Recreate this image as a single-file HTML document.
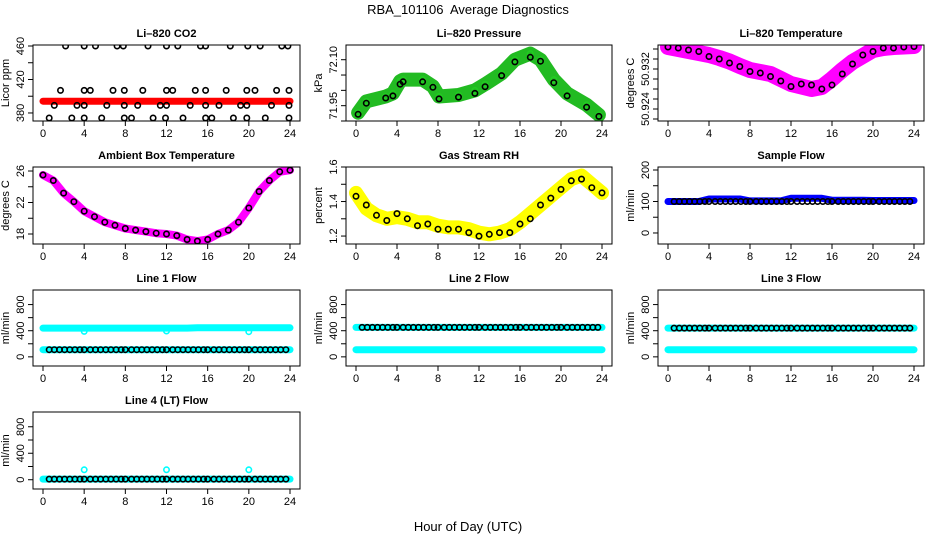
<!DOCTYPE html>
<html><head><meta charset="utf-8"><style>
html,body{margin:0;padding:0;background:#fff;}
svg{display:block;font-family:"Liberation Sans",sans-serif;}
</style></head><body>
<svg id="c" width="936" height="540" viewBox="0 0 936 540">
<text x="468" y="14" text-anchor="middle" font-size="13">RBA_101106&#160; Average Diagnostics</text>
<text x="468" y="531" text-anchor="middle" font-size="13">Hour of Day (UTC)</text>
</svg>
<script>
// ---- data arrays ----
const hours = [0,1,2,3,4,5,6,7,8,9,10,11,12,13,14,15,16,17,18,19,20,21,22,23,24];
const xTicks = [0,4,8,12,16,20,24];

const co2Band = [394,394,394,394,394,394,394,394,394,394,394,394,394,394,394,394,394,394,394,394,394,394,394,394,394];
const co2BlackHours = [2.2,4.0,5.1,7.2,7.8,10.2,12.0,13.1,15.3,15.8,18.2,19.9,21.1,23.2,23.8,
  1.7,4.0,4.6,6.8,7.9,9.7,12.0,12.6,14.8,15.8,17.8,19.8,20.6,22.7,23.9,
  1.1,3.3,4.0,6.2,7.9,9.2,11.4,12.0,14.3,15.8,17.1,19.2,19.8,22.2,23.9,
  0.6,2.8,4.0,5.7,7.9,8.6,10.7,11.9,13.6,15.8,16.4,18.5,19.8,21.6,23.9];
const co2BlackValues = [460,460,460,460,460,460,460,460,460,460,460,460,460,460,460,
  407,407,407,407,407,407,407,407,407,407,407,407,407,407,407,
  389,389,389,389,389,389,389,389,389,389,389,389,389,389,389,
  374,374,374,374,374,374,374,374,374,374,374,374,374,374,374];

const presHours = [0.2,1.0,2.9,3.6,4.3,4.6,6.5,7.5,8.1,10,11.6,12.6,14.2,15.5,17,18,19.3,20.6,22.5,23.7];
const presValues = [71.927,71.964,71.98,71.99,72.03,72.035,72.035,72.013,71.98,71.985,72.0,72.02,72.055,72.10,72.12,72.10,72.035,71.99,71.953,71.92];
const presBlack = [71.922,71.958,71.975,71.982,72.02,72.028,72.028,72.01,71.972,71.978,71.99,72.012,72.048,72.093,72.108,72.095,72.025,71.982,71.945,71.915];

const tempHours = [0,1,2,3,4,5,6,7,8,9,10,11,12,13,14,15,16,17,18,19,20,21,22,23,24];
const tempValues = [50.9364,50.936,50.9356,50.9352,50.9348,50.9342,50.9335,50.9326,50.9318,50.9314,50.931,50.930,50.929,50.9285,50.928,50.9284,50.930,50.9318,50.9334,50.9346,50.9358,50.9362,50.9364,50.9365,50.9366];
const tempBlack = [50.9364,50.9362,50.9358,50.9355,50.9345,50.934,50.9332,50.9325,50.9315,50.9312,50.9305,50.9296,50.9285,50.929,50.9288,50.928,50.9288,50.931,50.933,50.9348,50.9355,50.9362,50.9362,50.9364,50.9365];

const ambValues = [25.5,24.8,23.2,22.1,20.9,20.2,19.5,19.1,18.7,18.5,18.3,18.1,18.0,17.8,17.3,17.1,17.3,18.0,18.5,19.5,21.3,23.4,24.8,25.9,26.1];

const rhValues = [1.45,1.36,1.32,1.30,1.31,1.30,1.28,1.28,1.26,1.25,1.25,1.24,1.22,1.21,1.22,1.24,1.28,1.33,1.38,1.43,1.48,1.53,1.55,1.50,1.45];
const rhBlack = [1.43,1.38,1.32,1.29,1.33,1.30,1.26,1.27,1.24,1.24,1.24,1.22,1.20,1.21,1.22,1.22,1.27,1.30,1.38,1.42,1.47,1.52,1.53,1.48,1.45];

const sampleValues = [100,100,100,100,108,108,108,108,102,102,102,102,110,110,110,110,104,104,104,104,103,103,103,103,103];

const flowHours = [0.6,1.1,1.6,2.1,2.6,3.1,3.6,4.0,4.6,5.1,5.6,6.1,6.6,7.1,7.6,8.0,8.6,9.1,9.6,10.1,10.6,11.1,11.6,12.0,12.6,13.1,13.6,14.1,14.6,15.1,15.6,16.0,16.6,17.1,17.6,18.1,18.6,19.1,19.6,20.0,20.6,21.1,21.6,22.1,22.6,23.1,23.6];
const line1High = [440,440,440,440,440,440,440,440,440,440,440,440,440,440,440,445,445,445,445,445,445,445,445,445,445];
const line1Low = [110,110,110,110,110,110,110,110,110,110,110,110,110,110,110,110,110,110,110,110,110,110,110,110,110];
const line1Black = 110;
const line2High = [450,450,450,450,450,450,450,450,450,450,450,450,450,450,450,450,450,450,450,450,450,450,450,450,450];
const line2Low = [110,110,110,110,110,110,110,110,110,110,110,110,110,110,110,110,110,110,110,110,110,110,110,110,110];
const line2Black = 450;
const line3High = [440,440,440,440,440,440,440,440,440,440,440,440,440,440,440,440,440,440,440,440,440,440,440,440,440];
const line3Low = [110,110,110,110,110,110,110,110,110,110,110,110,110,110,110,110,110,110,110,110,110,110,110,110,110];
const line3Black = 440;
const line4Values = [10,10,10,10,10,10,10,10,10,10,10,10,10,10,10,10,10,10,10,10,10,10,10,10,10];
const line4OutHours = [4,12,20];
const line4OutValues = [150,150,150];
const line1OutHours = [4,12,20];
const line1OutValues = [390,395,385];

const flowTicks = [0,200,400,600,800];
const flowLabels = [0,400,800];

// ---- layout ----
const colBox = [[33,300],[346,612],[658,924]];
const rowBox = [[45,121],[167,244],[290,366],[412,489]];
const svg = document.getElementById('c');
const NS = 'http://www.w3.org/2000/svg';
function mk(tag, attrs, parent){
  const e = document.createElementNS(NS, tag);
  for (const k in attrs) e.setAttribute(k, attrs[k]);
  (parent||svg).appendChild(e);
  return e;
}

function panel(cfg){
  const [L,R] = colBox[cfg.col], [T,B] = rowBox[cfg.row];
  const g = mk('g', {});
  
  
  const xs = h => (L+10) + h/24*((R-10)-(L+10));
  const ys = v => B - (v-cfg.ylim[0])/(cfg.ylim[1]-cfg.ylim[0])*(B-T);
  const clip = 'clip'+cfg.name;
  const cp = mk('clipPath',{id:clip},g); mk('rect',{x:L,y:T,width:R-L,height:B-T},cp);
  const pg = mk('g',{'clip-path':'url(#'+clip+')'},g);
  (cfg.bands||[]).forEach(b=>{
    const pts = b.h.map((h,i)=>xs(h).toFixed(1)+','+ys(b.v[i]).toFixed(1)).join(' ');
    const pl = mk('polyline',{points:pts,fill:'none',stroke:b.color,'stroke-width':b.w,'stroke-linejoin':'round','stroke-linecap':'round'},pg);
    
    
  });
  (cfg.points||[]).forEach(p=>{
    p.h.forEach((h,i)=>{
      const v = Array.isArray(p.v) ? p.v[i] : p.v;
      const c = mk('circle',{cx:xs(h).toFixed(1),cy:ys(v).toFixed(1),r:2.7,fill:'none',stroke:p.color,'stroke-width':1.6},pg);
      
      
    });
  });
  mk('rect',{x:L,y:T,width:R-L,height:B-T,fill:'none',stroke:'#000','stroke-width':1},g);
  mk('line',{x1:xs(0),y1:B,x2:xs(24),y2:B,stroke:'#000'},g);
  xTicks.forEach(t=>{
    mk('line',{x1:xs(t),y1:B,x2:xs(t),y2:B+5,stroke:'#000'},g);
    const tx = mk('text',{x:xs(t),y:B+16,'text-anchor':'middle','font-size':11},g);
    tx.textContent = t;
    
    
  });
  cfg.ticks.forEach(t=>{
    mk('line',{x1:L,y1:ys(t),x2:L-5,y2:ys(t),stroke:'#000'},g);
  });
  cfg.labels.forEach(t=>{
    const y = ys(t);
    const tx = mk('text',{x:L-9,y:y,'text-anchor':'middle','font-size':11,transform:'rotate(-90 '+(L-9)+' '+y+')'},g);
    tx.textContent = cfg.fmt ? cfg.fmt(t) : t;
    
    
  });
  const yl = (T+B)/2;
  const ylab = mk('text',{x:L-24,y:yl,'text-anchor':'middle','font-size':11,transform:'rotate(-90 '+(L-24)+' '+yl+')'},g);
  ylab.textContent = cfg.ylab;
  
  
  const tt = mk('text',{x:(L+R)/2,y:T-8,'text-anchor':'middle','font-size':11,'font-weight':'bold'},g);
  tt.textContent = cfg.title;
  
  
}

panel({name:'co2-panel',title:'Li–820 CO2',ylab:'Licor ppm',col:0,row:0,ylim:[370.4,461.2],
  ticks:[380,400,420,440,460],labels:[380,420,460],
  bands:[{h:hours,v:co2Band,color:'#ff0000',w:7,label:'co2-band'}],
  points:[{h:co2BlackHours,v:co2BlackValues,color:'#000',label:'co2-hourly-point'}]});
panel({name:'pressure-panel',title:'Li–820 Pressure',ylab:'kPa',col:1,row:0,ylim:[71.90,72.148],
  ticks:[71.90,71.95,72.00,72.05,72.10],labels:[71.95,72.10],fmt:v=>v.toFixed(2),
  bands:[{h:presHours,v:presValues,color:'#22bb22',w:14,label:'pressure-band'}],
  points:[{h:presHours,v:presValues,color:'#22cc22',label:'pressure-point'},{h:presHours,v:presBlack,color:'#000',label:'pressure-hourly-point'}]});
panel({name:'temperature-panel',title:'Li–820 Temperature',ylab:'degrees C',col:2,row:0,ylim:[50.9216,50.9368],
  ticks:[50.922,50.924,50.926,50.928,50.930,50.932,50.934,50.936],labels:[50.924,50.932],fmt:v=>v.toFixed(3),
  bands:[{h:tempHours,v:tempValues,color:'#ff00ff',w:16,label:'temperature-band'}],
  points:[{h:tempHours,v:tempBlack,color:'#000',label:'temperature-hourly-point'}]});
panel({name:'ambient-panel',title:'Ambient Box Temperature',ylab:'degrees C',col:0,row:1,ylim:[16.73,26.51],
  ticks:[18,20,22,24,26],labels:[18,22,26],
  bands:[{h:hours,v:ambValues,color:'#ff00ff',w:8,label:'ambient-band'}],
  points:[{h:hours,v:ambValues,color:'#000',label:'ambient-hourly-point'}]});
panel({name:'rh-panel',title:'Gas Stream RH',ylab:'percent',col:1,row:1,ylim:[1.154,1.6],
  ticks:[1.2,1.3,1.4,1.5,1.6],labels:[1.2,1.4,1.6],fmt:v=>v.toFixed(1),
  bands:[{h:hours,v:rhValues,color:'#ffff00',w:14,label:'rh-band'}],
  points:[{h:hours,v:rhBlack,color:'#000',label:'rh-hourly-point'}]});
panel({name:'sample-flow-panel',title:'Sample Flow',ylab:'ml/min',col:2,row:1,ylim:[-35,209.5],
  ticks:[0,50,100,150,200],labels:[0,100,200],
  bands:[{h:hours,v:sampleValues,color:'#0000ff',w:7,label:'sample-band'}],
  points:[{h:flowHours,v:100,color:'#000',label:'sample-hourly-point'}]});
panel({name:'line1-panel',title:'Line 1 Flow',ylab:'ml/min',col:0,row:2,ylim:[-140,1023],
  ticks:flowTicks,labels:flowLabels,
  bands:[{h:hours,v:line1High,color:'#00ffff',w:7,label:'line1-high-band'},{h:hours,v:line1Low,color:'#00ffff',w:7,label:'line1-low-band'}],
  points:[{h:line1OutHours,v:line1OutValues,color:'#00ffff',label:'line1-outlier'},{h:flowHours,v:line1Black,color:'#000',label:'line1-hourly-point'}]});
panel({name:'line2-panel',title:'Line 2 Flow',ylab:'ml/min',col:1,row:2,ylim:[-140,1023],
  ticks:flowTicks,labels:flowLabels,
  bands:[{h:hours,v:line2High,color:'#00ffff',w:7,label:'line2-high-band'},{h:hours,v:line2Low,color:'#00ffff',w:7,label:'line2-low-band'}],
  points:[{h:flowHours,v:line2Black,color:'#000',label:'line2-hourly-point'}]});
panel({name:'line3-panel',title:'Line 3 Flow',ylab:'ml/min',col:2,row:2,ylim:[-140,1023],
  ticks:flowTicks,labels:flowLabels,
  bands:[{h:hours,v:line3High,color:'#00ffff',w:7,label:'line3-high-band'},{h:hours,v:line3Low,color:'#00ffff',w:7,label:'line3-low-band'}],
  points:[{h:flowHours,v:line3Black,color:'#000',label:'line3-hourly-point'}]});
panel({name:'line4-panel',title:'Line 4 (LT) Flow',ylab:'ml/min',col:0,row:3,ylim:[-140,1023],
  ticks:flowTicks,labels:flowLabels,
  bands:[{h:hours,v:line4Values,color:'#00ffff',w:7,label:'line4-band'}],
  points:[{h:line4OutHours,v:line4OutValues,color:'#00ffff',label:'line4-outlier'},{h:flowHours,v:10,color:'#000',label:'line4-hourly-point'}]});
</script>
</body></html>
